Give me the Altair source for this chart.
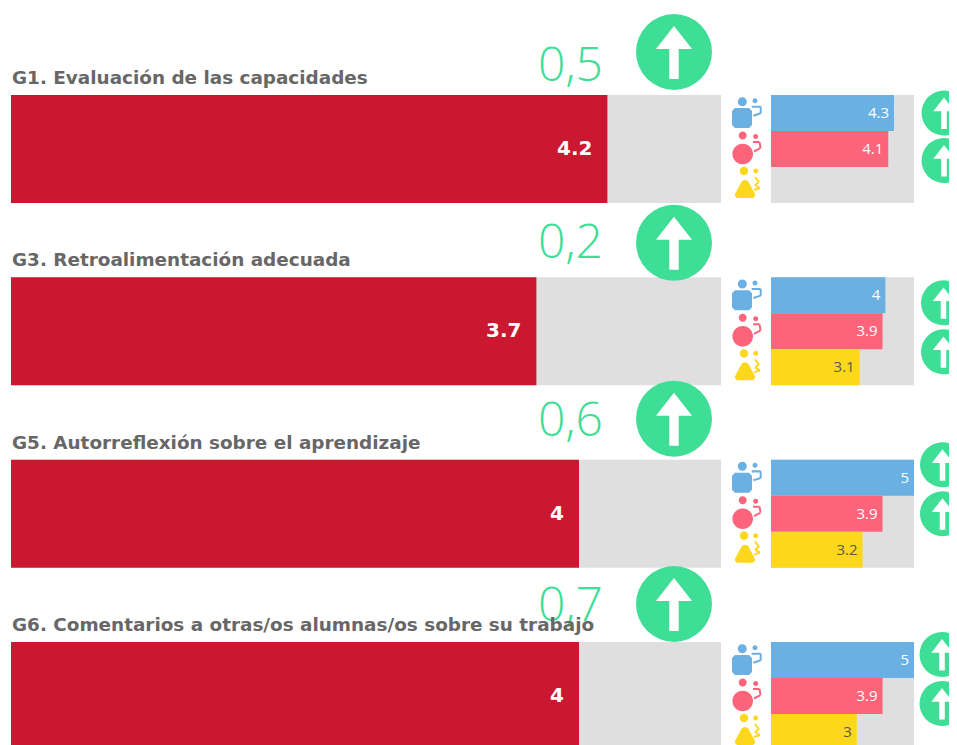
import altair as alt
import pandas as pd

# ---- data ----
titles = ["G1. Evaluación de las capacidades", "G3. Retroalimentación adecuada",
          "G5. Autorreflexión sobre el aprendizaje", "G6. Comentarios a otras/os alumnas/os sobre su trabajo"]
totals = [4.2, 3.7, 4, 4]
total_labels = ["4.2", "3.7", "4", "4"]
changes = ["0,5", "0,2", "0,6", "0,7"]
groups = ["a", "b", "c"]
boys = [4.3, 4, 5, 5]
girls = [4.1, 3.9, 3.9, 3.9]
other = [None, 3.1, 3.2, 3]
MAX = 5

RED, GREY, GREEN = "#CA1830", "#DFDFDF", "#3FDE96"
COLORS = ["#6AB0E2", "#FB647A", "#FDD71C"]


# ---- glyphs (unit square paths) ----
def f(v):
    return f"{v:.3f}"

def circle(cx, cy, r, u=18.0):
    k = 0.5523 * r
    p = lambda x, y: f"{f((cx + x) / u)},{f((cy + y) / u)}"
    return (f"M{p(r, 0)}C{p(r, k)} {p(k, r)} {p(0, r)}C{p(-k, r)} {p(-r, k)} {p(-r, 0)}"
            f"C{p(-r, -k)} {p(-k, -r)} {p(0, -r)}C{p(k, -r)} {p(r, -k)} {p(r, 0)}Z")

def poly(pts, u=18.0):
    return "M" + "L".join(f"{f(x / u)},{f(y / u)}" for x, y in pts) + "Z"

def hook(pts, w=1.0):
    out = ""
    for (x0, y0), (x1, y1) in zip(pts, pts[1:]):
        dx, dy = x1 - x0, y1 - y0
        n = (dx * dx + dy * dy) ** 0.5
        nx, ny = -dy / n * w, dx / n * w
        out += poly([(x0 + nx, y0 + ny), (x1 + nx, y1 + ny), (x1 - nx, y1 - ny), (x0 - nx, y0 - ny)])
    return out

blue_icon = (poly([(-12, -5), (2, -5), (5, -2), (5, 12), (2, 15), (-12, 15), (-15, 12), (-15, -2)])
             + circle(-4.7, -11.3, 4.5) + circle(8, -12.3, 2.5)
             + hook([(4.7, -6.3), (13.7, -6.3), (13.7, 0.3), (6.3, 2.7)]))
red_icon = (circle(-4.3, 5, 10.3) + circle(-4.3, -13.5, 4) + circle(8.7, -12.5, 2.5)
            + hook([(6, -7), (12.5, -7), (13.5, -1), (7, 2.5)]))
yellow_icon = (poly([(-2, -5), (1, -4), (8, 9), (8, 11), (6, 13), (-10, 13), (-12, 11), (-12, 9), (-5, -4)])
               + circle(-3, -14, 4.2) + circle(8.7, -14, 2.5)
               + hook([(8, -8), (12, -3), (8, 0), (13, 3), (7, 5)]))
icons = [blue_icon, red_icon, yellow_icon]

h = 38.0
ARROW = poly([(0, -26), (18, -3), (4.7, -3), (4.7, 27), (-4.7, 27), (-4.7, -3), (-18, -3)], u=h)

# ---- tables ----
rows = pd.DataFrame({"row": titles, "total": totals, "label": total_labels, "change": changes, "max": MAX})
sub = pd.DataFrame(
    [{"row": t, "group": g, "value": v, "max": MAX}
     for t, b, r, o in zip(titles, boys, girls, other)
     for g, v in zip(groups, (b, r, o))]
)
sub_bars = sub.dropna(subset=["value"]).copy()
sub_bars["text"] = sub_bars["value"].map(lambda v: f"{v:g}")

# ---- scales ----
Y = alt.Y("row:N", sort=titles, axis=None,
          scale=alt.Scale(domain=titles, range=[87, 742], paddingInner=0.4077, paddingOuter=0))
OFFSET = alt.YOffset("group:N", sort=groups, scale=alt.Scale(domain=groups, paddingInner=0, paddingOuter=0))
XL = alt.Scale(domain=[0, MAX], range=[3, 713])
XR = alt.Scale(domain=[0, MAX], range=[763, 906])
COLOR = alt.Color("group:N", legend=None, scale=alt.Scale(domain=groups, range=COLORS))
SHAPE = alt.Shape("group:N", legend=None, scale=alt.Scale(domain=groups, range=icons))

base = alt.Chart(rows)
subc = alt.Chart(sub_bars)

layers = [
    base.mark_bar(color=GREY).encode(x=alt.X("max:Q", scale=XL, axis=None), y=Y),
    base.mark_bar(color=RED).encode(x=alt.X("total:Q", scale=XL, axis=None), y=Y),
    base.mark_text(color="white", font="DejaVu Sans", fontWeight="bold", fontSize=20, align="right", dx=-15)
        .encode(x=alt.X("total:Q", scale=XL, axis=None), y=Y, text="label:N"),
    base.mark_bar(color=GREY).encode(x=alt.X("max:Q", scale=XR, axis=None), y=Y),
    subc.mark_bar().encode(x=alt.X("value:Q", scale=XR, axis=None), y=Y, yOffset=OFFSET, color=COLOR),
    subc.transform_filter("datum.group != 'c'")
        .mark_text(color="white", font="Open Sans", fontSize=15, align="right", dx=-5)
        .encode(x=alt.X("value:Q", scale=XR, axis=None), y=Y, yOffset=OFFSET, text="text:N"),
    subc.transform_filter("datum.group == 'c'")
        .mark_text(color="#5a5a4a", font="Open Sans", fontSize=15, align="right", dx=-5)
        .encode(x=alt.X("value:Q", scale=XR, axis=None), y=Y, yOffset=OFFSET, text="text:N"),
    alt.Chart(sub).mark_point(filled=True, size=1296, opacity=1, strokeWidth=0)
        .encode(x=alt.value(739), y=Y, yOffset=OFFSET, shape=SHAPE, color=COLOR),
]

# header furniture: each row sits a little differently above its bar
num_dy = [-82, -87, -92, -89]
big_dy = [-97, -88.5, -95, -92]
small_dy = [(0, 11.5), (7.5, 20.5), (-13, 0), (-5.5, 7.5)]
small_x = [936, 935.5, 934.5, 934]

for i, t in enumerate(titles):
    one = alt.Chart(rows[rows.row == t])
    layers.append(one.mark_text(color=GREEN, font="Open Sans", fontWeight=300, fontSize=48, align="right", dy=num_dy[i])
                  .encode(x=alt.value(595), y=Y, text="change:N"))
    layers.append(one.mark_point(filled=True, shape="circle", size=5776, color=GREEN, opacity=1, strokeWidth=0)
                  .encode(x=alt.value(666), y=Y, yOffset=alt.value(big_dy[i] + 54)))
    layers.append(one.mark_point(filled=True, shape=ARROW, size=5776, color="white", opacity=1, strokeWidth=0)
                  .encode(x=alt.value(666), y=Y, yOffset=alt.value(big_dy[i] + 54)))
    for g, d in zip(groups[:2], small_dy[i]):
        s = alt.Chart(sub[(sub.row == t) & (sub.group == g)])
        layers.append(s.mark_point(filled=True, shape="circle", size=2025, color=GREEN, opacity=1, strokeWidth=0)
                      .encode(x=alt.value(small_x[i]), y=Y, yOffset=alt.value(d + (18 if g == "a" else 54))))
        layers.append(s.mark_point(filled=True, shape=ARROW, size=2025, color="white", opacity=1, strokeWidth=0)
                      .encode(x=alt.value(small_x[i]), y=Y, yOffset=alt.value(d + (18 if g == "a" else 54))))

layers.append(base.mark_text(color="#676767", font="DejaVu Sans", fontWeight="bold", fontSize=18.4, align="left", dy=-71)
              .encode(x=alt.value(4), y=Y, text="row:N"))

chart = (
    alt.layer(*layers)
    .resolve_scale(x="independent")
    .properties(width=941, height=737, padding=0, autosize=alt.AutoSizeParams(type="none"), background="white")
    .configure_view(stroke=None)
)
chart.save("out.html", embed_options={"renderer": "svg", "actions": False})
